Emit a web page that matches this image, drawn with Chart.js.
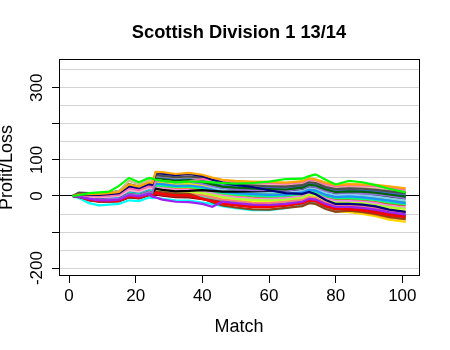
<!DOCTYPE html>
<html>
<head>
<meta charset="utf-8">
<title>Scottish Division 1 13/14</title>
<script src="https://cdn.jsdelivr.net/npm/chart.js@4.4.1/dist/chart.umd.min.js"></script>
<style>
  html, body { margin: 0; padding: 0; background: #ffffff; }
  canvas { display: block; }
</style>
</head>
<body>
<canvas id="chart" width="450" height="350"></canvas>
<script>
// Match numbers at which each running profit/loss total is recorded
const MATCHES = [1,3,6,9,12,15,18,21,24,25,26,28,32,36,40,43,46,50,55,60,65,70,72,74,77,80,84,88,92,96,101];

// Axis ticks
const X_TICKS = [0,20,40,60,80,100];
const Y_GRID = [-200,-150,-100,-50,0,50,100,150,200,250,300,350];
const Y_TICK_MARKS = [-200,-100,0,100,200,300];
const Y_TICK_LABELS = [-200,0,100,300];

// Cumulative profit/loss of each staking system
const sysGreen       = [0,2,8,10,12,28,50,38,50,48,45,42,38,40,40,38,36,34,36,40,47,48,55,60,45,32,42,38,30,20,10];
const sysPurple      = [0,-2,-8,-12,-12,-10,2,-1,6,-2,-4,-10,-16,-17,-22,-30,-16,-20,-24,-25,-22,-16,-8,-10,-22,-30,-30,-33,-38,-45,-51];
const sysOrange      = [0,4,5,6,8,11,32,26,38,36,67,66,61,64,59,51,45,42,40,39,37,41,49,46,37,31,33,32,31,27,21];
const sysNavy        = [0,3,3,3,5,8,27,22,33,31,63,62,58,61,55,45,37,31,25,16,8,6,11,5,-11,-22,-22,-24,-29,-38,-44];
const sysHotPink     = [0,2,0,-1,1,3,21,16,27,25,44,42,38,40,47,46,40,39,38,36,34,38,46,44,33,27,30,29,27,23,17];
const sysDarkGray    = [0,9,8,8,6,9,28,22,34,32,58,56,52,54,50,48,36,31,29,27,26,30,38,36,25,19,21,20,17,13,7];
const sysTan         = [0,3,4,5,7,14,42,32,44,42,56,55,51,53,49,41,35,33,31,29,27,32,40,38,27,21,23,22,20,15,9];
const sysDarkGreen   = [0,2,3,4,8,14,33,26,36,33,48,46,42,44,39,32,26,23,21,19,18,23,31,29,18,11,13,12,9,4,-2];
const sysMedPurple   = [0,-2,-7,-10,-9,-8,5,2,11,9,43,42,39,40,34,28,23,19,16,16,15,21,28,25,14,9,10,7,5,1,-6];
const sysRoyalBlue   = [0,2,1,0,2,5,23,18,29,27,50,50,47,48,42,36,31,27,24,23,23,26,33,32,22,16,17,15,13,9,2];
const sysLightPink   = [0,1,-2,-3,-2,0,16,12,22,20,53,53,50,52,46,39,34,31,28,27,26,31,38,35,25,19,20,20,18,13,8];
const sysBlack       = [0,-2,-7,-10,-9,-8,5,2,11,9,20,17,13,14,16,14,12,12,13,14,15,20,28,26,16,10,12,12,9,4,0];
const sysDodgerBlue  = [0,0,-3,-5,-4,-1,14,10,20,18,34,33,28,29,25,18,11,8,5,3,4,10,17,15,3,-3,-1,-4,-8,-13,-20];
const sysRed         = [0,-3,-10,-14,-13,-13,-1,-4,5,3,9,6,2,2,-8,-15,-21,-26,-31,-31,-27,-21,-13,-15,-29,-37,-37,-40,-46,-53,-59];
const sysFirebrick   = [0,-3,-11,-15,-15,-14,-3,-6,3,1,6,3,-1,-1,-7,-12,-17,-22,-27,-28,-24,-18,-10,-12,-26,-33,-32,-36,-42,-49,-54];
const sysSaddleBrown = [0,-2,-9,-12,-12,-11,1,-2,7,5,12,10,6,6,-7,-17,-26,-32,-37,-38,-33,-28,-20,-22,-36,-44,-41,-44,-50,-58,-64];
const sysCyan        = [0,-6,-20,-26,-24,-22,-12,-14,-4,-6,-5,-8,-12,-13,-18,-22,-28,-34,-39,-39,-34,-25,-17,-19,-31,-38,-39,-42,-48,-55,-61];
const sysSalmon      = [0,-2,-9,-12,-12,-11,1,-2,7,5,13,10,7,6,2,-4,-10,-14,-19,-20,-16,-11,-3,-5,-18,-25,-26,-29,-33,-40,-45];
const sysGreenYellow = [0,-2,-7,-10,-9,-8,5,2,11,9,19,17,12,13,9,3,-3,-8,-11,-12,-10,-5,4,2,-11,-18,-19,-20,-25,-31,-36];
const sysYellow      = [0,-2,-8,-11,-11,-9,3,0,9,7,16,14,10,10,5,0,-6,-11,-15,-16,-13,-8,0,-2,-14,-22,-22,-24,-29,-36,-42];
const sysSpringGreen = [0,0,-4,-6,-5,-3,12,8,18,16,29,28,25,25,20,13,8,4,1,-1,1,6,13,12,0,-6,-6,-8,-11,-18,-23];
const sysTurquoise   = [0,-3,-10,-14,-13,-13,-1,-4,5,3,9,6,2,2,-3,-8,-14,-19,-23,-23,-20,-14,-6,-8,-22,-29,-29,-32,-37,-44,-50];
const sysViolet      = [0,-1,-6,-9,-8,-6,8,4,14,12,23,21,17,17,12,7,1,-4,-7,-8,-6,-1,7,5,-7,-14,-14,-16,-20,-27,-33];
const sysDarkOrange  = [0,0,-5,-7,-6,-5,10,6,16,14,26,24,20,21,16,10,4,0,-7,-12,-13,-11,-6,-10,-25,-35,-40,-45,-52,-60,-65];
const sysGold        = [0,1,-2,-3,-2,0,16,12,22,20,37,35,31,33,28,18,8,0,-7,-14,-17,-14,-10,-15,-32,-42,-45,-50,-56,-66,-72];
const sysChocolate   = [0,0,-5,-7,-6,-5,10,6,16,14,26,25,20,21,15,10,4,1,-3,-4,-2,3,11,9,-4,-10,-10,-12,-17,-22,-27];
const sysSkyBlue     = [0,1,-1,-2,-1,2,18,14,24,22,39,37,33,35,30,23,17,14,11,10,10,15,23,21,9,2,4,2,-2,-7,-13];
const sysPink        = [0,4,4,4,6,10,30,24,36,34,57,57,54,55,51,43,38,35,33,32,30,34,42,40,30,24,26,25,23,18,12];
const sysSlateGray   = [0,2,-1,-2,0,3,20,15,26,24,42,41,37,38,33,27,21,17,15,14,14,18,26,24,13,6,8,6,3,-2,-8];
const sysBlue        = [0,-2,-9,-12,-12,-10,2,-1,8,6,14,12,8,8,3,-2,-8,-13,-17,-18,-15,-10,-2,-4,-16,-24,-24,-26,-31,-38,-44];
const sysLimeGreen   = [0,1,-2,-4,-3,-1,15,11,21,19,36,34,29,31,26,19,13,10,7,6,6,11,19,17,6,-2,0,-2,-6,-11,-17];
const sysDarkRed     = [0,-4,-12,-16,-16,-15,-4,-7,2,0,4,1,-3,-4,-9,-13,-19,-25,-29,-29,-26,-20,-12,-14,-27,-35,-35,-38,-44,-51,-57];
const sysPlum        = [0,3,3,3,4,8,26,21,32,30,52,51,47,50,45,38,31,29,27,25,24,28,36,34,23,17,19,18,15,11,5];
const sysSeaGreen    = [0,-3,-10,-15,-14,-13,-2,-5,4,2,7,4,0,0,-5,-10,-16,-21,-25,-25,-22,-16,-8,-10,-24,-31,-31,-34,-39,-46,-52];

// Line colour for each system (first entry is drawn on top)
const SERIES = [
  ['#00FF00', sysGreen],
  ['#A020F0', sysPurple],
  ['#FFA500', sysOrange],
  ['#000080', sysNavy],
  ['#FF69B4', sysHotPink],
  ['#4D4D4D', sysDarkGray],
  ['#D2B48C', sysTan],
  ['#006400', sysDarkGreen],
  ['#9370DB', sysMedPurple],
  ['#4169E1', sysRoyalBlue],
  ['#FFB6C1', sysLightPink],
  ['#000000', sysBlack],
  ['#1E90FF', sysDodgerBlue],
  ['#FF0000', sysRed],
  ['#B22222', sysFirebrick],
  ['#8B4513', sysSaddleBrown],
  ['#00FFFF', sysCyan],
  ['#FA8072', sysSalmon],
  ['#ADFF2F', sysGreenYellow],
  ['#FFFF00', sysYellow],
  ['#00FF7F', sysSpringGreen],
  ['#40E0D0', sysTurquoise],
  ['#EE82EE', sysViolet],
  ['#FF8C00', sysDarkOrange],
  ['#FFD700', sysGold],
  ['#D2691E', sysChocolate],
  ['#87CEEB', sysSkyBlue],
  ['#FFC0CB', sysPink],
  ['#2F4F4F', sysSlateGray],
  ['#0000FF', sysBlue],
  ['#32CD32', sysLimeGreen],
  ['#8B0000', sysDarkRed],
  ['#DDA0DD', sysPlum],
  ['#20B2AA', sysSeaGreen]
];

const TITLE = 'Scottish Division 1 13/14';
const FONT = '"Liberation Sans", Arial, Helvetica, sans-serif';

const datasets = SERIES.map(([color, values]) => ({
  data: values.map((v, i) => ({ x: MATCHES[i], y: v })),
  borderColor: color,
  backgroundColor: color,
  borderWidth: 2.2,
  pointRadius: 0,
  pointHoverRadius: 0,
  fill: false,
  tension: 0
}));

// Plot frame and main title
const framePlugin = {
  id: 'frame',
  afterDraw(chart) {
    const { ctx, chartArea: a } = chart;
    ctx.save();
    ctx.strokeStyle = '#000';
    ctx.lineWidth = 1;
    ctx.strokeRect(a.left + 0.5, a.top + 0.5, a.right - a.left, a.bottom - a.top - 1);
    ctx.fillStyle = '#000';
    ctx.font = 'bold 18.3px ' + FONT;
    ctx.textAlign = 'center';
    ctx.textBaseline = 'alphabetic';
    ctx.fillText(TITLE, (a.left + a.right) / 2, 37.7);
    ctx.restore();
  }
};

new Chart(document.getElementById('chart'), {
  type: 'line',
  data: { datasets },
  plugins: [framePlugin],
  options: {
    responsive: false,
    animation: false,
    devicePixelRatio: 1,
    events: [],
    layout: { padding: { top: 59, right: 31, bottom: 0, left: 0 } },
    plugins: {
      legend: { display: false },
      tooltip: { enabled: false },
      title: { display: false }
    },
    scales: {
      x: {
        type: 'linear',
        min: -3,
        max: 105,
        afterBuildTicks: s => { s.ticks = X_TICKS.map(v => ({ value: v })); },
        afterFit: s => { s.height = 74; },
        border: { display: false },
        grid: {
          drawOnChartArea: false,
          drawTicks: true,
          tickLength: 7,
          tickColor: '#000',
          tickWidth: 1
        },
        ticks: {
          autoSkip: false,
          minRotation: 0,
          maxRotation: 0,
          padding: 5.3,
          color: '#000',
          font: { family: FONT, size: 17, lineHeight: 1 }
        },
        title: {
          display: true,
          text: 'Match',
          color: '#000',
          font: { family: FONT, size: 18, lineHeight: 1 },
          padding: { top: 0, bottom: 13.9 }
        }
      },
      y: {
        type: 'linear',
        min: -222,
        max: 380,
        afterBuildTicks: s => { s.ticks = Y_GRID.map(v => ({ value: v })); },
        afterFit: s => { s.width = 59; },
        border: { display: false },
        grid: {
          drawOnChartArea: true,
          color: c => (c.tick && c.tick.value === 0) ? '#000000' : '#D3D3D3',
          lineWidth: 1,
          drawTicks: true,
          tickLength: 7,
          tickWidth: 1,
          tickColor: c => (c.tick && Y_TICK_MARKS.includes(c.tick.value)) ? '#000000' : 'rgba(0,0,0,0)'
        },
        ticks: {
          autoSkip: false,
          minRotation: 90,
          maxRotation: 90,
          crossAlign: 'center',
          padding: -2.4,
          color: '#000',
          font: { family: FONT, size: 17, lineHeight: 1 },
          callback: v => Y_TICK_LABELS.includes(v) ? String(v) : ''
        },
        title: {
          display: true,
          text: 'Profit/Loss',
          color: '#000',
          font: { family: FONT, size: 18, lineHeight: 1 },
          padding: { top: -1.9, bottom: 0 }
        }
      }
    }
  }
});
</script>
</body>
</html>
